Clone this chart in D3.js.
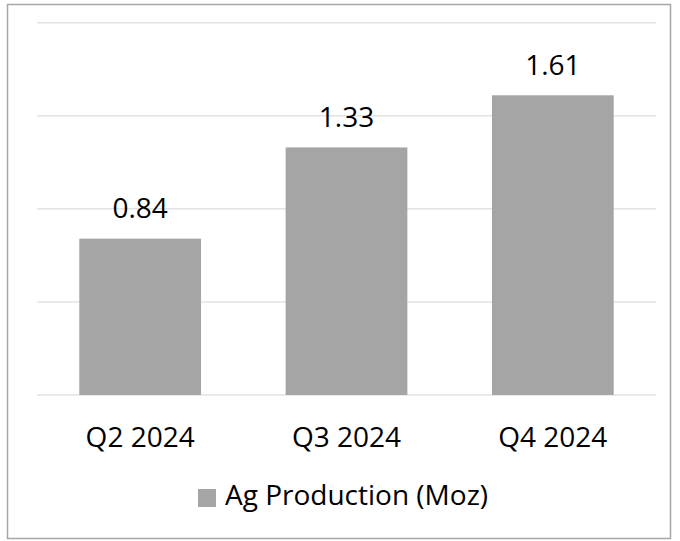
<!DOCTYPE html>
<html>
<head>
<meta charset="utf-8">
<script src="https://cdn.jsdelivr.net/npm/d3@7"></script>
<style>
  body { margin: 0; background: #fff; }
  text { font-family: "Open Sans", sans-serif; fill: #000; }
</style>
</head>
<body>
<div id="chart"></div>
<script>
const categories = ["Q2 2024", "Q3 2024", "Q4 2024"];
const values = [0.84, 1.33, 1.61];
const yTicks = [0, 0.5, 1.0, 1.5, 2.0];
const seriesName = "Ag Production (Moz)";

const width = 680, height = 541;
const svg = d3.select("#chart").append("svg")
    .attr("width", width)
    .attr("height", height);

// outer border of the chart area
svg.append("rect")
    .attr("x", 7.5).attr("y", 4.5)
    .attr("width", 663).attr("height", 534)
    .attr("fill", "#fff")
    .attr("stroke", "#a6a6a6")
    .attr("stroke-width", 1.5);

const plot = { left: 37, right: 656, top: 22.7, bottom: 395 };

const x = d3.scaleBand()
    .domain(categories)
    .range([plot.left, plot.right])
    .paddingInner(0.41)
    .paddingOuter(0.205);

const y = d3.scaleLinear()
    .domain([0, 2])
    .range([plot.bottom, plot.top]);

// gridlines
svg.append("g")
    .selectAll("line")
    .data(yTicks)
    .enter()
    .append("line")
    .attr("x1", plot.left)
    .attr("x2", plot.right)
    .attr("y1", d => y(d))
    .attr("y2", d => y(d))
    .attr("stroke", "#e3e3e3")
    .attr("stroke-width", 1.5);

// bars
svg.append("g")
    .selectAll("rect")
    .data(values)
    .enter()
    .append("rect")
    .attr("x", (d, i) => x(categories[i]))
    .attr("y", d => y(d))
    .attr("width", x.bandwidth())
    .attr("height", d => y(0) - y(d))
    .attr("fill", "#a5a5a5");

// value labels
svg.append("g")
    .selectAll("text")
    .data(values)
    .enter()
    .append("text")
    .attr("x", (d, i) => x(categories[i]) + x.bandwidth() / 2)
    .attr("y", d => y(d) - 20.5)
    .attr("text-anchor", "middle")
    .attr("font-size", 28)
    .text(d => d.toFixed(2));

// category axis labels
svg.append("g")
    .selectAll("text")
    .data(categories)
    .enter()
    .append("text")
    .attr("x", d => x(d) + x.bandwidth() / 2)
    .attr("y", 447)
    .attr("text-anchor", "middle")
    .attr("font-size", 28)
    .text(d => d);

// legend
const legend = svg.append("g");
legend.append("rect")
    .attr("x", 198).attr("y", 489)
    .attr("width", 18).attr("height", 18)
    .attr("fill", "#a5a5a5");
legend.append("text")
    .attr("x", 225).attr("y", 505)
    .attr("font-size", 28)
    .text(seriesName);
</script>
</body>
</html>
